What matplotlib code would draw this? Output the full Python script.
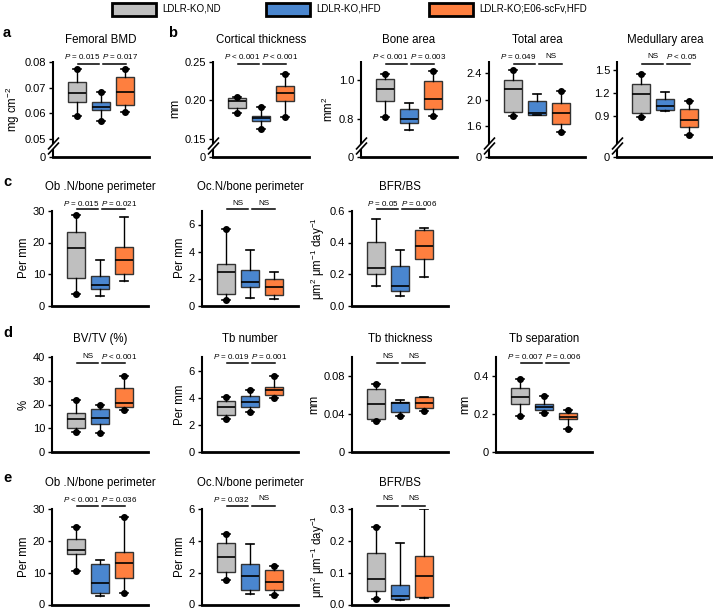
import matplotlib
matplotlib.use('Agg')
import matplotlib.pyplot as plt
import numpy as np
from matplotlib.lines import Line2D
from matplotlib.patches import Rectangle
from matplotlib.transforms import blended_transform_factory

plt.rcParams['font.family'] = ['Liberation Sans', 'DejaVu Sans']
plt.rcParams['mathtext.fontset'] = 'custom'
plt.rcParams['mathtext.rm'] = 'Liberation Sans'
plt.rcParams['mathtext.it'] = 'Liberation Sans:italic'
plt.rcParams['mathtext.bf'] = 'Liberation Sans:bold'

groups = ['LDLR-KO,ND', 'LDLR-KO,HFD', 'LDLR-KO;E06-scFv,HFD']
colors = ['#bfbfbf', '#4a86cf', '#fe7f3f']

# each box: (low whisker, q1, median, q3, high whisker), groups in order above
# dots: (dot at low end, dot at high end)
femoral_bmd = [(0.0590, 0.0644, 0.0681, 0.0725, 0.0774),
               (0.0570, 0.0612, 0.0624, 0.0644, 0.0684),
               (0.0606, 0.0632, 0.0686, 0.0742, 0.0774)]
femoral_bmd_dots = [(1, 1), (1, 1), (1, 1)]
cortical = [(0.1835, 0.190, 0.1994, 0.2028, 0.2049),
            (0.163, 0.1736, 0.177, 0.180, 0.192),
            (0.179, 0.1994, 0.210, 0.2187, 0.2337)]
cortical_dots = [(1, 1), (1, 1), (1, 1)]
bone_area = [(0.813, 0.892, 0.955, 1.005, 1.033),
             (0.747, 0.783, 0.800, 0.853, 0.883),
             (0.820, 0.853, 0.903, 0.997, 1.045)]
bone_area_dots = [(1, 1), (0, 0), (1, 1)]
total_area = [(1.75, 1.816, 2.157, 2.30, 2.45),
              (1.76, 1.77, 1.80, 1.98, 2.085),
              (1.51, 1.625, 1.80, 1.944, 2.135)]
total_area_dots = [(1, 1), (0, 0), (1, 1)]
medullary = [(0.887, 0.943, 1.183, 1.314, 1.444),
             (0.970, 0.974, 1.031, 1.118, 1.217),
             (0.649, 0.761, 0.848, 0.988, 1.096)]
medullary_dots = [(1, 1), (0, 0), (1, 1)]

obn_c = [(3.5, 8.6, 18.1, 23.4, 28.8),
         (3.1, 5.1, 6.5, 9.4, 14.4),
         (7.7, 10.1, 14.6, 18.7, 28.0)]
obn_c_dots = [(1, 1), (0, 0), (0, 0)]
ocn_c = [(0.39, 0.88, 2.45, 3.09, 5.7),
         (0.56, 1.35, 1.74, 2.65, 4.12),
         (0.51, 0.81, 1.37, 1.93, 2.47)]
ocn_c_dots = [(1, 1), (0, 0), (0, 0)]
bfr_c = [(0.123, 0.199, 0.235, 0.404, 0.548),
         (0.061, 0.093, 0.123, 0.251, 0.351),
         (0.178, 0.294, 0.378, 0.478, 0.489)]
bfr_c_dots = [(0, 0), (0, 0), (0, 0)]

bvtv = [(8.5, 10.2, 13.8, 16.6, 22.0),
        (7.8, 12.0, 14.4, 17.9, 19.7),
        (17.6, 19.0, 20.7, 27.1, 32.2)]
bvtv_dots = [(1, 1), (1, 1), (1, 1)]
tb_number = [(2.4, 2.75, 3.29, 3.77, 4.06),
             (2.97, 3.33, 3.72, 4.14, 4.55),
             (4.0, 4.2, 4.54, 4.80, 5.57)]
tb_number_dots = [(1, 1), (1, 1), (1, 1)]
tb_thickness = [(0.0327, 0.0345, 0.0501, 0.0662, 0.0716),
                (0.0380, 0.0417, 0.0520, 0.0527, 0.0545),
                (0.0428, 0.0466, 0.0516, 0.0574, 0.0580)]
tb_thickness_dots = [(1, 1), (1, 0), (1, 0)]
tb_separation = [(0.189, 0.253, 0.289, 0.336, 0.384),
                 (0.204, 0.221, 0.236, 0.253, 0.295),
                 (0.119, 0.172, 0.186, 0.204, 0.221)]
tb_separation_dots = [(1, 1), (1, 1), (1, 1)]

obn_e = [(10.5, 15.8, 17.0, 20.7, 24.2),
         (2.8, 3.6, 6.8, 12.6, 13.9),
         (3.7, 8.3, 13.1, 16.5, 27.6)]
obn_e_dots = [(1, 1), (0, 0), (1, 1)]
ocn_e = [(1.57, 2.04, 2.98, 3.88, 4.45),
         (0.63, 0.92, 1.79, 2.52, 3.82),
         (0.61, 0.88, 1.41, 2.14, 2.45)]
ocn_e_dots = [(1, 1), (0, 0), (1, 1)]
bfr_e = [(0.018, 0.042, 0.079, 0.162, 0.243),
         (0.015, 0.016, 0.026, 0.060, 0.194),
         (0.020, 0.025, 0.088, 0.152, 0.299)]
bfr_e_dots = [(1, 1), (0, 0), (0, 0)]

bfr_unit = r'$\mathregular{\mu m^{2}\ \mu m^{-1}\ day^{-1}}$'

W, H = 713, 610
fig = plt.figure(figsize=(W / 100, H / 100), dpi=100)

# row geometry in pixels: axes top, axes bottom, title y, P text y, bracket y
rows = {'ab': (60.7, 157, 40, 56.5, 64),
        'c': (211, 305.5, 187, 203, 209),
        'd': (357, 452, 339, 356.5, 363),
        'e': (509, 604.5, 483, 499, 506)}

# title, row, left px, data, dots, ylim top, ticks, tick labels, ylabel, p labels, break low
panels = [
    ('Femoral BMD', 'ab', 53, femoral_bmd, femoral_bmd_dots, 0.0807, [0, 0.05, 0.06, 0.07, 0.08],
     ['0', '0.05', '0.06', '0.07', '0.08'], r'mg cm$^{-2}$', ('$P$ = 0.015', '$P$ = 0.017'), 0.05),
    ('Cortical thickness', 'ab', 213, cortical, cortical_dots, 0.2513, [0, 0.15, 0.20, 0.25],
     ['0', '0.15', '0.20', '0.25'], 'mm', ('$P$ < 0.001', '$P$ < 0.001'), 0.15),
    ('Bone area', 'ab', 361, bone_area, bone_area_dots, 1.1, [0, 0.8, 1.0],
     ['0', '0.8', '1.0'], r'mm$^{2}$', ('$P$ < 0.001', '$P$ = 0.003'), 0.7),
    ('Total area', 'ab', 489, total_area, total_area_dots, 2.59, [0, 1.6, 2.0, 2.4],
     ['0', '1.6', '2.0', '2.4'], '', ('$P$ = 0.049', 'NS'), 1.4),
    ('Medullary area', 'ab', 617, medullary, medullary_dots, 1.62, [0, 0.9, 1.2, 1.5],
     ['0', '0.9', '1.2', '1.5'], '', ('NS', '$P$ < 0.05'), 0.6),
    ('Ob .N/bone perimeter', 'c', 52, obn_c, obn_c_dots, 30, [0, 10, 20, 30],
     ['0', '10', '20', '30'], 'Per mm', ('$P$ = 0.015', '$P$ = 0.021'), None),
    ('Oc.N/bone perimeter', 'c', 202, ocn_c, ocn_c_dots, 7, [0, 2, 4, 6],
     ['0', '2', '4', '6'], 'Per mm', ('NS', 'NS'), None),
    ('BFR/BS', 'c', 352, bfr_c, bfr_c_dots, 0.6, [0, 0.2, 0.4, 0.6],
     ['0.0', '0.2', '0.4', '0.6'], bfr_unit, ('$P$ = 0.05', '$P$ = 0.006'), None),
    ('BV/TV (%)', 'd', 52, bvtv, bvtv_dots, 40, [0, 10, 20, 30, 40],
     ['0', '10', '20', '30', '40'], '%', ('NS', '$P$ < 0.001'), None),
    ('Tb number', 'd', 202, tb_number, tb_number_dots, 7, [0, 2, 4, 6],
     ['0', '2', '4', '6'], 'Per mm', ('$P$ = 0.019', '$P$ = 0.001'), None),
    ('Tb thickness', 'd', 352, tb_thickness, tb_thickness_dots, 0.1, [0, 0.04, 0.08],
     ['0', '0.04', '0.08'], 'mm', ('NS', 'NS'), None),
    ('Tb separation', 'd', 496, tb_separation, tb_separation_dots, 0.5, [0, 0.2, 0.4],
     ['0', '0.2', '0.4'], 'mm', ('$P$ = 0.007', '$P$ = 0.006'), None),
    ('Ob .N/bone perimeter', 'e', 52, obn_e, obn_e_dots, 30, [0, 10, 20, 30],
     ['0', '10', '20', '30'], 'Per mm', ('$P$ < 0.001', '$P$ = 0.036'), None),
    ('Oc.N/bone perimeter', 'e', 202, ocn_e, ocn_e_dots, 6, [0, 2, 4, 6],
     ['0', '2', '4', '6'], 'Per mm', ('$P$ = 0.032', 'NS'), None),
    ('BFR/BS', 'e', 352, bfr_e, bfr_e_dots, 0.3, [0, 0.1, 0.2, 0.3],
     ['0.0', '0.1', '0.2', '0.3'], bfr_unit, ('NS', 'NS'), None),
]

axis_w = 96


def fig_line(xs, ys, lw):
    # line in pixel coords (top-left origin)
    fig.add_artist(Line2D([x / W for x in xs], [1 - y / H for y in ys], color='black',
                          lw=lw, solid_capstyle='butt'))


def broken_scale(lo, top):
    gap = 18 / 78.3 * (top - lo)

    def fwd(v):
        v = np.asarray(v, dtype=float)
        return np.where(v < lo, v * gap / lo, v - lo + gap)

    def inv(u):
        u = np.asarray(u, dtype=float)
        return np.where(u < gap, u * lo / gap, u + lo - gap)
    return fwd, inv


for title, row, left, data, dots, ytop, ticks, ticklabels, ylabel, plabels, lo in panels:
    top, bottom, title_y, p_y, br_y = rows[row]
    ax = fig.add_axes([left / W, 1 - bottom / H, axis_w / W, (bottom - top) / H])
    stats = [dict(whislo=s[0], q1=s[1], med=s[2], q3=s[3], whishi=s[4]) for s in data]
    art = ax.bxp(stats, positions=[1, 2, 3], widths=0.77, capwidths=0.33, showfliers=False,
                 patch_artist=True,
                 boxprops=dict(edgecolor='#333333', linewidth=1.0),
                 medianprops=dict(color='black', linewidth=1.2),
                 whiskerprops=dict(color='black', linewidth=1.0),
                 capprops=dict(color='black', linewidth=1.2))
    for patch, c in zip(art['boxes'], colors):
        patch.set_facecolor(c)
    for i, (s, d) in enumerate(zip(data, dots)):
        if d[0]:
            ax.plot(i + 1, s[0], 'o', color='black', ms=4, clip_on=False, zorder=5)
        if d[1]:
            ax.plot(i + 1, s[4], 'o', color='black', ms=4, clip_on=False, zorder=5)

    if lo is not None:
        ax.set_yscale('function', functions=broken_scale(lo, ytop))
    ax.set_xlim(0, 4)
    ax.set_ylim(0, ytop)
    ax.set_yticks(ticks)
    ax.set_yticklabels(ticklabels)
    ax.set_xticks([])
    ax.spines['top'].set_visible(False)
    ax.spines['right'].set_visible(False)
    ax.spines['bottom'].set_linewidth(2.0)
    ax.spines['left'].set_linewidth(1.5)
    ax.tick_params(axis='y', direction='out', length=3, width=1, labelsize=8, pad=2)
    if ylabel:
        ax.set_ylabel(ylabel, fontsize=8.3, labelpad=2)
    ax.patch.set_visible(False)

    if lo is not None:
        # axis break on the left spine
        ax.spines['left'].set_visible(False)
        fig_line([left, left], [top, 143.5], 1.5)
        fig_line([left, left], [148.5, bottom], 1.5)
        for yc in (143.5, 148.5):
            fig_line([left - 5, left + 6], [yc + 6, yc - 6], 1.2)

    fig.text((left + axis_w / 2) / W, 1 - title_y / H, title, ha='center', va='center', fontsize=8.3)

    # significance brackets: P values hug the gap between the brackets, NS is centred
    tr = blended_transform_factory(ax.transData, fig.transFigure)
    brackets = [(1.04, 1.92), (2.09, 3.05)]
    for k, ((x0, x1), lab) in enumerate(zip(brackets, plabels)):
        ax.add_line(Line2D([x0, x1], [1 - br_y / H] * 2, transform=tr, color='black', lw=1.1,
                           clip_on=False))
        if lab == 'NS':
            xt, ha = (x0 + x1) / 2, 'center'
        elif k == 0:
            xt, ha = 1.95, 'right'
        else:
            xt, ha = 2.06, 'left'
        ax.text(xt, 1 - p_y / H, lab, transform=tr, ha=ha, va='center',
                fontsize=5.8, clip_on=False)

# panel letters
for letter, x, y in [('a', 3, 33), ('b', 168, 33), ('c', 3, 182), ('d', 3, 333), ('e', 3, 478)]:
    fig.text(x / W, 1 - y / H, letter, fontsize=10.5, fontweight='bold', ha='left', va='center')

# legend
for name, c, bx in zip(groups, colors, [112, 266, 429]):
    fig.add_artist(Rectangle((bx / W, 1 - 15.5 / H), 44 / W, 13 / H, transform=fig.transFigure,
                             facecolor=c, edgecolor='black', lw=2))
    fig.text((bx + 50) / W, 1 - 8.5 / H, name, fontsize=7, ha='left', va='center')

fig.savefig('out.png', dpi=100)
